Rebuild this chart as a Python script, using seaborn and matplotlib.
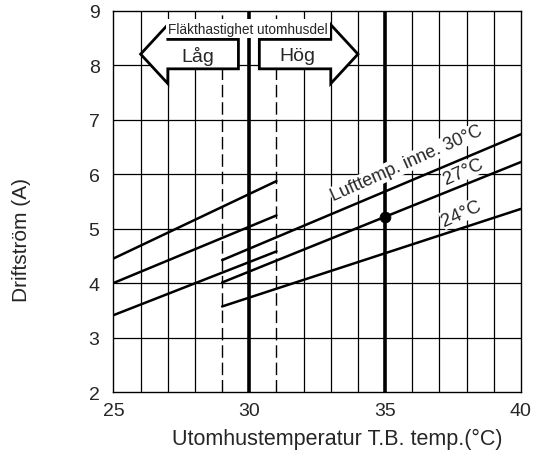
import matplotlib.pyplot as plt
import seaborn as sns
import pandas as pd
from matplotlib.patches import Polygon

# Driftström mot utomhustemperatur, låg/hög fläkthastighet

low_x = [25, 31]      # låg fläkthastighet
high_x = [29, 40]     # hög fläkthastighet
low_30 = [4.45, 5.87]
low_27 = [4.00, 5.24]
low_24 = [3.41, 4.58]
high_30 = [4.42, 6.73]
high_27 = [4.01, 6.22]
high_24 = [3.57, 5.36]

point_x = [35]
point_y = [5.22]

x_ticks = [25, 30, 35, 40]
y_ticks = [2, 3, 4, 5, 6, 7, 8, 9]

sns.set_style("white")
plt.rcParams['font.family'] = ['Liberation Sans', 'DejaVu Sans']

rows = []
for name, xs, ys in [("låg 30", low_x, low_30), ("låg 27", low_x, low_27), ("låg 24", low_x, low_24),
                     ("hög 30", high_x, high_30), ("hög 27", high_x, high_27), ("hög 24", high_x, high_24)]:
    rows += [{'serie': name, 'x': x, 'y': y} for x, y in zip(xs, ys)]
df = pd.DataFrame(rows)

fig = plt.figure(figsize=(5.34, 4.52), dpi=100)
ax = fig.add_axes([0.2125, 0.1305, 0.763, 0.844])

# rutnät
for xv in range(26, 40):
    if xv in (29, 31):
        ax.axvline(xv, color='black', lw=1, ls=(0, (9, 3.5)), zorder=1)
    elif xv not in (30, 35):
        ax.axvline(xv, color='black', lw=0.9, zorder=1)
for yv in range(3, 9):
    ax.axhline(yv, color='black', lw=0.9, zorder=1)
for xv in (30, 35):
    ax.axvline(xv, color='black', lw=2.6, zorder=3)

sns.lineplot(data=df, x='x', y='y', units='serie', estimator=None, color='black', lw=1.8, ax=ax, zorder=4)
sns.scatterplot(x=point_x, y=point_y, color='black', s=60, ax=ax, zorder=6, edgecolor='black')


def arrow(ax, x_end, x_base, x_tip, yc, hb=0.27, hh=0.54):
    pts = [(x_end, yc + hb), (x_base, yc + hb), (x_base, yc + hh), (x_tip, yc),
           (x_base, yc - hh), (x_base, yc - hb), (x_end, yc - hb)]
    ax.add_patch(Polygon(pts, closed=True, fc='white', ec='black', lw=2, zorder=2.5, joinstyle='miter'))


arrow(ax, 29.6, 27.0, 26.0, 8.2)
arrow(ax, 30.37, 33.0, 34.0, 8.2)
ax.text(28.1, 8.17, "Låg", fontsize=14, ha='center', va='center', zorder=7)
ax.text(31.76, 8.17, "Hög", fontsize=14, ha='center', va='center', zorder=7)
ax.text(29.95, 8.67, "Fläkthastighet utomhusdel", fontsize=9.8, ha='center', va='center',
        zorder=7, bbox=dict(fc='white', ec='none', pad=1.5))

box = dict(fc='white', ec='none', pad=0.5)
ax.text(35.8, 6.2, "Lufttemp. inne. 30°C", fontsize=13, rotation=24, ha='center', va='center',
        rotation_mode='anchor', zorder=7, bbox=box)
ax.text(37.88, 6.05, "27°C", fontsize=13.5, rotation=24, ha='center', va='center',
        rotation_mode='anchor', zorder=7, bbox=box)
ax.text(37.82, 5.285, "24°C", fontsize=13.5, rotation=24, ha='center', va='center',
        rotation_mode='anchor', zorder=7, bbox=box)

ax.set_xlim(25, 40)
ax.set_ylim(2, 9)
ax.set_xticks(x_ticks)
ax.set_yticks(y_ticks)
ax.tick_params(length=0, labelsize=14)
ax.tick_params(axis='x', pad=7)
ax.tick_params(axis='y', pad=10)
for s in ax.spines.values():
    s.set_color('black')
    s.set_linewidth(1)

ax.set_xlabel("Utomhustemperatur T.B. temp.(°C)", fontsize=15.5)
ax.set_ylabel("Driftström (A)", fontsize=15)
ax.xaxis.set_label_coords(0.548, -0.094)
ax.yaxis.set_label_coords(-0.2025, 0.401)

fig.savefig('out.png', dpi=100)
